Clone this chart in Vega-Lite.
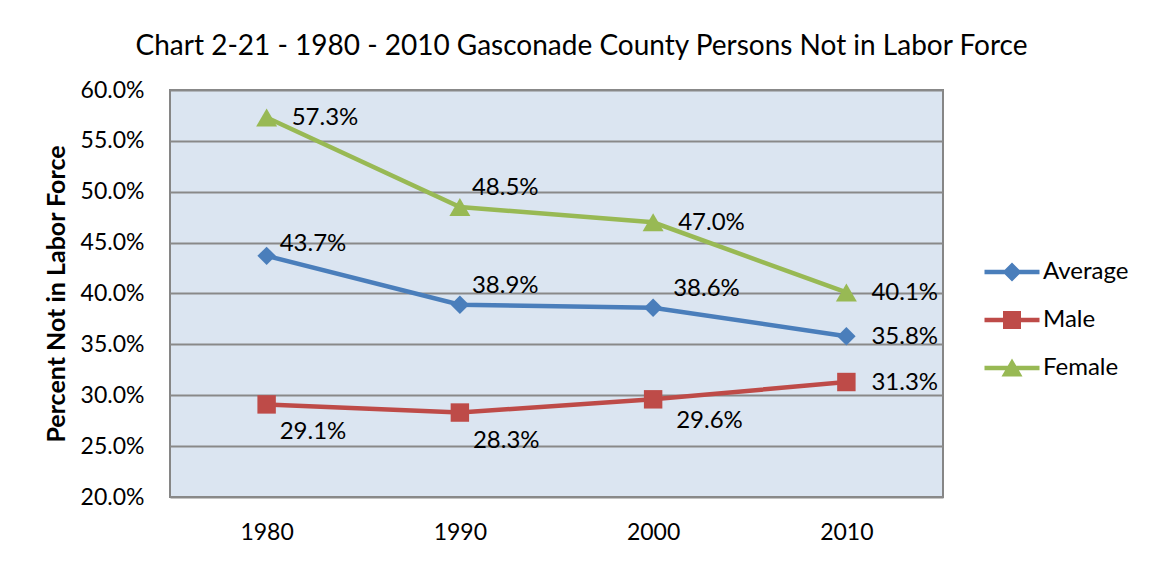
{
  "$schema": "https://vega.github.io/schema/vega-lite/v6.json",
  "width": 773,
  "height": 407,
  "autosize": {"type": "none"},
  "padding": {"left": 170, "top": 90, "right": 208, "bottom": 69},
  "background": "white",
  "title": {
    "text": "Chart 2-21 - 1980 - 2010 Gasconade County Persons Not in Labor Force",
    "font": "Lato",
    "fontSize": 28,
    "fontWeight": "normal",
    "color": "black",
    "anchor": "middle",
    "dx": 25,
    "offset": 18
  },
  "data": {
    "values": [
      {"series": "Average", "year": "1980", "value": 0.437},
      {"series": "Average", "year": "1990", "value": 0.389},
      {"series": "Average", "year": "2000", "value": 0.386},
      {"series": "Average", "year": "2010", "value": 0.358},
      {"series": "Male", "year": "1980", "value": 0.291},
      {"series": "Male", "year": "1990", "value": 0.283},
      {"series": "Male", "year": "2000", "value": 0.296},
      {"series": "Male", "year": "2010", "value": 0.313},
      {"series": "Female", "year": "1980", "value": 0.573},
      {"series": "Female", "year": "1990", "value": 0.485},
      {"series": "Female", "year": "2000", "value": 0.47},
      {"series": "Female", "year": "2010", "value": 0.401}
    ]
  },
  "encoding": {
    "x": {
      "field": "year",
      "type": "ordinal",
      "scale": {"type": "point", "padding": 0.5},
      "axis": {
        "title": null,
        "labelAngle": 0,
        "ticks": false,
        "domain": false,
        "grid": false,
        "labelFont": "Lato",
        "labelFontSize": 23,
        "labelColor": "black",
        "labelPadding": 24
      }
    },
    "y": {
      "field": "value",
      "type": "quantitative",
      "scale": {"domain": [0.2, 0.6], "nice": false, "zero": false},
      "axis": {
        "title": "Percent Not in Labor Force",
        "titleFont": "Lato",
        "titleFontSize": 25,
        "titleFontWeight": "bold",
        "titleColor": "black",
        "titlePadding": 11,
        "values": [0.2, 0.25, 0.3, 0.35, 0.4, 0.45, 0.5, 0.55, 0.6],
        "format": ".1%",
        "ticks": false,
        "domain": false,
        "grid": true,
        "gridColor": "#898989",
        "gridWidth": 2,
        "labelFont": "Lato",
        "labelFontSize": 23,
        "labelColor": "black",
        "labelPadding": 26
      }
    }
  },
  "layer": [
    {
      "transform": [{"filter": "datum.series == 'Average'"}],
      "mark": {"type": "line", "color": "#4A7EBB", "strokeWidth": 4.5}
    },
    {
      "transform": [{"filter": "datum.series == 'Male'"}],
      "mark": {"type": "line", "color": "#BE4B48", "strokeWidth": 4.5}
    },
    {
      "transform": [{"filter": "datum.series == 'Female'"}],
      "mark": {"type": "line", "color": "#98B954", "strokeWidth": 4.5}
    },
    {
      "transform": [{"filter": "datum.series == 'Average'"}],
      "mark": {"type": "point", "shape": "diamond", "filled": true, "opacity": 1, "size": 340, "color": "#4A7EBB"}
    },
    {
      "transform": [{"filter": "datum.series == 'Male'"}],
      "mark": {"type": "point", "shape": "square", "filled": true, "opacity": 1, "size": 340, "color": "#BE4B48"}
    },
    {
      "transform": [{"filter": "datum.series == 'Female'"}],
      "mark": {"type": "point", "shape": "triangle-up", "filled": true, "opacity": 1, "size": 440, "color": "#98B954"}
    },
    {
      "transform": [{"filter": "datum.year == '2010' || (datum.series == 'Female' && (datum.year == '1980' || datum.year == '2000'))"}],
      "mark": {"type": "text", "align": "left", "baseline": "middle", "dx": 25, "dy": 1, "font": "Lato", "fontSize": 24, "color": "black"},
      "encoding": {"text": {"field": "value", "type": "quantitative", "format": ".1%"}}
    },
    {
      "transform": [{"filter": "datum.series == 'Average' && datum.year == '1980'"}],
      "mark": {"type": "text", "align": "left", "baseline": "middle", "dx": 13, "dy": -12, "font": "Lato", "fontSize": 24, "color": "black"},
      "encoding": {"text": {"field": "value", "type": "quantitative", "format": ".1%"}}
    },
    {
      "transform": [{"filter": "datum.year == '1990' && (datum.series == 'Average' || datum.series == 'Female')"}],
      "mark": {"type": "text", "align": "left", "baseline": "middle", "dx": 12, "dy": -19, "font": "Lato", "fontSize": 24, "color": "black"},
      "encoding": {"text": {"field": "value", "type": "quantitative", "format": ".1%"}}
    },
    {
      "transform": [{"filter": "datum.year == '2000' && datum.series == 'Average'"}],
      "mark": {"type": "text", "align": "left", "baseline": "middle", "dx": 20, "dy": -19, "font": "Lato", "fontSize": 24, "color": "black"},
      "encoding": {"text": {"field": "value", "type": "quantitative", "format": ".1%"}}
    },
    {
      "transform": [{"filter": "datum.series == 'Male' && (datum.year == '1980' || datum.year == '1990')"}],
      "mark": {"type": "text", "align": "left", "baseline": "middle", "dx": 13, "dy": 28, "font": "Lato", "fontSize": 24, "color": "black"},
      "encoding": {"text": {"field": "value", "type": "quantitative", "format": ".1%"}}
    },
    {
      "transform": [{"filter": "datum.series == 'Male' && datum.year == '2000'"}],
      "mark": {"type": "text", "align": "left", "baseline": "middle", "dx": 23, "dy": 22, "font": "Lato", "fontSize": 24, "color": "black"},
      "encoding": {"text": {"field": "value", "type": "quantitative", "format": ".1%"}}
    },
    {
      "transform": [{"filter": "false"}],
      "mark": {"type": "point", "filled": true, "opacity": 1, "size": 400},
      "encoding": {
        "color": {
          "field": "series",
          "type": "nominal",
          "scale": {"domain": ["Average", "Male", "Female"], "range": ["#4A7EBB", "#BE4B48", "#98B954"]},
          "legend": {
            "title": null,
            "orient": "none",
            "legendX": 830,
            "legendY": 170,
            "symbolSize": 400,
            "symbolStrokeWidth": 0,
            "labelFont": "Lato",
            "labelFontSize": 24,
            "labelColor": "black",
            "labelOffset": 19,
            "rowPadding": 24,
            "padding": 0
          }
        },
        "shape": {
          "field": "series",
          "type": "nominal",
          "scale": {
            "domain": ["Average", "Male", "Female"],
            "range": [
              "M-2.75,-0.22H2.75V0.22H-2.75Z M-0.95,0L0,-0.95L0.95,0L0,0.95Z",
              "M-2.75,-0.22H2.75V0.22H-2.75Z M-0.9,-0.9H0.9V0.9H-0.9Z",
              "M-2.75,-0.22H2.75V0.22H-2.75Z M0,-0.95L1.05,0.85H-1.05Z"
            ]
          },
          "legend": {
            "title": null,
            "orient": "none",
            "legendX": 830,
            "legendY": 170,
            "symbolSize": 400,
            "symbolStrokeWidth": 0,
            "labelFont": "Lato",
            "labelFontSize": 24,
            "labelColor": "black",
            "labelOffset": 19,
            "rowPadding": 24,
            "padding": 0
          }
        }
      }
    }
  ],
  "config": {
    "view": {"fill": "#DBE5F1", "stroke": "#868686", "strokeWidth": 2}
  }
}
